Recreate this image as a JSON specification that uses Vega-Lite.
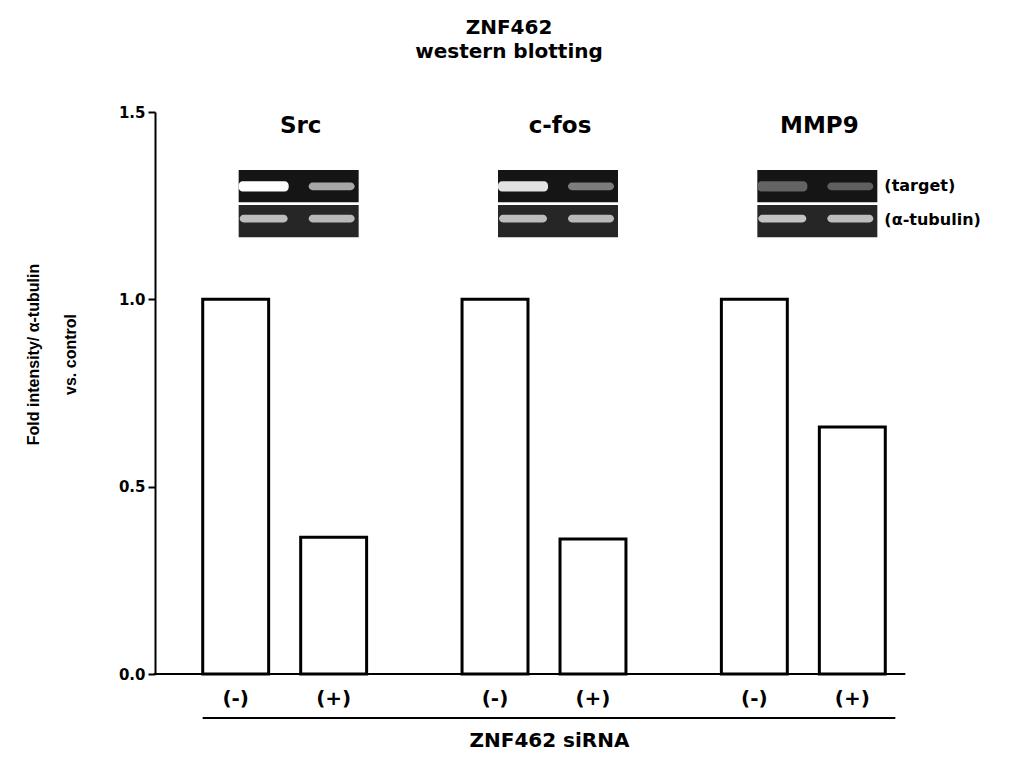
{
  "$schema": "https://vega.github.io/schema/vega-lite/v6.json",
  "autosize": "none",
  "width": 778,
  "height": 562,
  "padding": {"left": 155, "top": 112, "right": 83, "bottom": 90},
  "background": "white",
  "config": {"view": {"stroke": null}, "font": "DejaVu Sans"},
  "title": {
    "text": ["ZNF462", "western blotting"],
    "fontSize": 20, "fontWeight": "bold", "font": "DejaVu Sans", "color": "black",
    "anchor": "middle", "dx": -35, "offset": 43, "lineHeight": 24
  },
  "datasets": {
    "bars": [
      {"gene": "Src", "treatment": "(-)", "value": 1.0},
      {"gene": "Src", "treatment": "(+)", "value": 0.365},
      {"gene": "c-fos", "treatment": "(-)", "value": 1.0},
      {"gene": "c-fos", "treatment": "(+)", "value": 0.36},
      {"gene": "MMP9", "treatment": "(-)", "value": 1.0},
      {"gene": "MMP9", "treatment": "(+)", "value": 0.659}
    ],
    "genes": [{"gene": "Src"}, {"gene": "c-fos"}, {"gene": "MMP9"}],
    "bands": [
      {"gene": "Src", "treatment": "(-)", "lane": "target", "intensity": 1.0},
      {"gene": "Src", "treatment": "(+)", "lane": "target", "intensity": 0.62},
      {"gene": "c-fos", "treatment": "(-)", "lane": "target", "intensity": 0.88},
      {"gene": "c-fos", "treatment": "(+)", "lane": "target", "intensity": 0.42},
      {"gene": "MMP9", "treatment": "(-)", "lane": "target", "intensity": 0.3},
      {"gene": "MMP9", "treatment": "(+)", "lane": "target", "intensity": 0.28},
      {"gene": "Src", "treatment": "(-)", "lane": "tubulin", "intensity": 0.72},
      {"gene": "Src", "treatment": "(+)", "lane": "tubulin", "intensity": 0.7},
      {"gene": "c-fos", "treatment": "(-)", "lane": "tubulin", "intensity": 0.72},
      {"gene": "c-fos", "treatment": "(+)", "lane": "tubulin", "intensity": 0.7},
      {"gene": "MMP9", "treatment": "(-)", "lane": "tubulin", "intensity": 0.75},
      {"gene": "MMP9", "treatment": "(+)", "lane": "tubulin", "intensity": 0.72}
    ]
  },
  "layer": [
    {
      "data": {"name": "bars"},
      "mark": {"type": "bar", "fill": "white", "stroke": "black", "strokeWidth": 3},
      "encoding": {
        "x": {
          "field": "gene", "type": "nominal",
          "scale": {"domain": ["Src", "c-fos", "MMP9"], "paddingInner": 0, "paddingOuter": 0},
          "axis": {
            "labels": false, "ticks": false, "domain": false,
            "title": "ZNF462 siRNA", "titleFontSize": 20, "titleFontWeight": "bold",
            "titleFont": "DejaVu Sans", "titleColor": "black", "titlePadding": 56, "titleX": 394
          }
        },
        "xOffset": {
          "field": "treatment", "type": "nominal",
          "scale": {"domain": ["(-)", "(+)"], "paddingInner": 0.327, "paddingOuter": 0.487}
        },
        "y": {
          "field": "value", "type": "quantitative",
          "scale": {"domain": [0, 1.5], "nice": false, "zero": true},
          "axis": {
            "values": [0, 0.5, 1, 1.5], "format": ".1f", "grid": false,
            "labelFontSize": 15, "labelFontWeight": "bold", "labelFont": "DejaVu Sans", "labelColor": "black",
            "tickColor": "black", "tickWidth": 2, "tickSize": 7, "labelPadding": 3,
            "domainColor": "black", "domainWidth": 2,
            "title": ["Fold intensity/ α-tubulin", "vs. control"],
            "titleFont": "Liberation Sans", "titleFontSize": 16, "titleFontWeight": "bold",
            "titleColor": "black", "titleLineHeight": 37, "titlePadding": 40, "titleY": 242
          }
        }
      }
    },
    {
      "data": {"values": [{"axis": "x"}]},
      "mark": {"type": "rule", "color": "black", "strokeWidth": 2, "xOffset": -131, "x2Offset": 102},
      "encoding": {
        "x": {"datum": "Src", "type": "nominal"},
        "x2": {"datum": "MMP9"},
        "y": {"datum": 0, "type": "quantitative"}
      }
    },
    {
      "data": {"name": "bars"},
      "mark": {"type": "text", "fontSize": 20, "fontWeight": "bold", "dy": 25, "baseline": "middle", "color": "black", "font": "DejaVu Sans"},
      "encoding": {
        "x": {"field": "gene", "type": "nominal"},
        "xOffset": {"field": "treatment", "type": "nominal"},
        "y": {"datum": 0, "type": "quantitative"},
        "text": {"field": "treatment"}
      }
    },
    {
      "data": {"name": "genes"},
      "mark": {"type": "text", "fontSize": 23, "fontWeight": "bold", "dx": 16, "baseline": "middle", "color": "black", "font": "DejaVu Sans"},
      "encoding": {
        "x": {"field": "gene", "type": "nominal"},
        "y": {"datum": 1.462, "type": "quantitative"},
        "text": {"field": "gene"}
      }
    },
    {
      "data": {"name": "genes"},
      "mark": {"type": "bar", "width": 120, "xOffset": 14, "color": "#151515"},
      "encoding": {
        "x": {"field": "gene", "type": "nominal"},
        "y": {"datum": 1.259, "type": "quantitative"},
        "y2": {"datum": 1.345}
      }
    },
    {
      "data": {"name": "genes"},
      "mark": {"type": "bar", "width": 120, "xOffset": 14, "color": "#262626"},
      "encoding": {
        "x": {"field": "gene", "type": "nominal"},
        "y": {"datum": 1.166, "type": "quantitative"},
        "y2": {"datum": 1.252}
      }
    },
    {
      "data": {"name": "bands"},
      "transform": [{"filter": "datum.lane === 'target' && datum.treatment === '(-)'"}],
      "mark": {"type": "bar", "width": 50, "xOffset": -21, "cornerRadius": 4},
      "encoding": {
        "x": {"field": "gene", "type": "nominal"},
        "y": {"datum": 1.288, "type": "quantitative"},
        "y2": {"datum": 1.315},
        "color": {"field": "intensity", "type": "quantitative", "scale": {"domain": [0, 1], "range": ["#2a2a2a", "#ffffff"]}, "legend": null}
      }
    },
    {
      "data": {"name": "bands"},
      "transform": [{"filter": "datum.lane === 'target' && datum.treatment === '(+)'"}],
      "mark": {"type": "bar", "width": 46, "xOffset": 47, "cornerRadius": 4},
      "encoding": {
        "x": {"field": "gene", "type": "nominal"},
        "y": {"datum": 1.291, "type": "quantitative"},
        "y2": {"datum": 1.312},
        "color": {"field": "intensity", "type": "quantitative", "legend": null}
      }
    },
    {
      "data": {"name": "bands"},
      "transform": [{"filter": "datum.lane === 'tubulin' && datum.treatment === '(-)'"}],
      "mark": {"type": "bar", "width": 48, "xOffset": -21, "cornerRadius": 4},
      "encoding": {
        "x": {"field": "gene", "type": "nominal"},
        "y": {"datum": 1.205, "type": "quantitative"},
        "y2": {"datum": 1.226},
        "color": {"field": "intensity", "type": "quantitative", "legend": null}
      }
    },
    {
      "data": {"name": "bands"},
      "transform": [{"filter": "datum.lane === 'tubulin' && datum.treatment === '(+)'"}],
      "mark": {"type": "bar", "width": 46, "xOffset": 47, "cornerRadius": 4},
      "encoding": {
        "x": {"field": "gene", "type": "nominal"},
        "y": {"datum": 1.205, "type": "quantitative"},
        "y2": {"datum": 1.226},
        "color": {"field": "intensity", "type": "quantitative", "legend": null}
      }
    },
    {
      "data": {"values": [{"label": "(target)"}]},
      "mark": {"type": "text", "fontSize": 16, "fontWeight": "bold", "align": "left", "baseline": "middle", "dx": 81, "color": "black", "font": "DejaVu Sans"},
      "encoding": {
        "x": {"datum": "MMP9", "type": "nominal"},
        "y": {"datum": 1.302, "type": "quantitative"},
        "text": {"field": "label"}
      }
    },
    {
      "data": {"values": [{"label": "(α-tubulin)"}]},
      "mark": {"type": "text", "fontSize": 16, "fontWeight": "bold", "align": "left", "baseline": "middle", "dx": 81, "color": "black", "font": "DejaVu Sans"},
      "encoding": {
        "x": {"datum": "MMP9", "type": "nominal"},
        "y": {"datum": 1.212, "type": "quantitative"},
        "text": {"field": "label"}
      }
    },
    {
      "data": {"values": [{"label": "ZNF462 siRNA"}]},
      "mark": {"type": "rule", "color": "black", "strokeWidth": 2, "xOffset": -82, "x2Offset": 92, "yOffset": 44},
      "encoding": {
        "x": {"datum": "Src", "type": "nominal"},
        "x2": {"datum": "MMP9"},
        "y": {"datum": 0, "type": "quantitative"}
      }
    }
  ]
}
